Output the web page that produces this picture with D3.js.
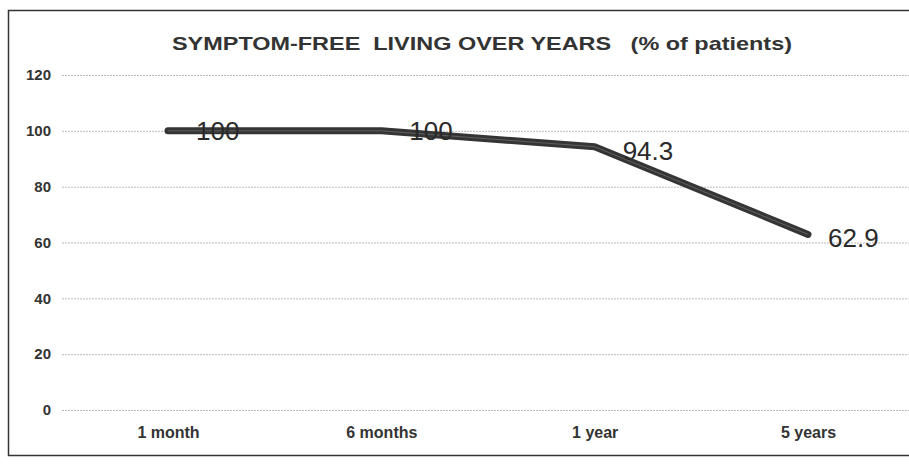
<!DOCTYPE html>
<html lang="en">
<head>
<meta charset="utf-8">
<title>Symptom-free living</title>
<script src="https://d3js.org/d3.v7.js"></script>
<style>
  body { margin: 0; background: #fff; overflow: hidden; }
  svg { display: block; }
  text { font-family: "Liberation Sans", Arial, sans-serif; }
  .narrow { font-family: "Liberation Sans Narrow", "Arial Narrow", "Liberation Sans", Arial, sans-serif; }
</style>
</head>
<body>
<script>
var w = 909;
var h = 466;

// data
var categories = ["1 month", "6 months", "1 year", "5 years"];
var values = [100, 100, 94.3, 62.9];
var valueLabels = ["100", "100", "94.3", "62.9"];
var yTicks = [0, 20, 40, 60, 80, 100, 120];
var title = "SYMPTOM-FREE  LIVING OVER YEARS   (% of patients)";

var xScale = d3.scalePoint()
  .domain(categories)
  .range([168, 808]);

var yScale = d3.scaleLinear()
  .domain([0, 120])
  .range([410, 75]);

var svg = d3.select("body")
  .append("svg")
  .attr("width", w)
  .attr("height", h);

// frame (right side runs off the page)
svg.append("path")
  .attr("d", "M1000,10.5 H8.5 V455.5 H1000")
  .attr("fill", "none")
  .attr("stroke", "#333")
  .attr("stroke-width", 1.5);

// title
svg.append("text")
  .attr("class", "narrow")
  .attr("x", 482)
  .attr("y", 50)
  .attr("text-anchor", "middle")
  .attr("font-size", 19)
  .attr("font-weight", "bold")
  .attr("fill", "#333")
  .attr("textLength", 620)
  .attr("lengthAdjust", "spacingAndGlyphs")
  .style("white-space", "pre")
  .text(title);

// y axis with gridlines
var yAxis = d3.axisLeft(yScale)
  .tickValues(yTicks)
  .tickSize(-(w - 62))
  .tickPadding(11)
  .tickFormat(d3.format("d"));

var gy = svg.append("g")
  .attr("transform", "translate(62,0)")
  .call(yAxis);
gy.select(".domain").remove();
gy.selectAll(".tick line")
  .attr("stroke", "#bbb")
  .attr("stroke-dasharray", "2,1");
gy.selectAll(".tick text")
  .attr("class", "narrow")
  .style("font-size", "15px")
  .style("font-weight", "bold")
  .attr("fill", "#333");

// x axis labels
var xAxis = d3.axisBottom(xScale)
  .tickSize(0)
  .tickPadding(0);
var gx = svg.append("g")
  .attr("transform", "translate(0,427)")
  .call(xAxis);
gx.select(".domain").remove();
gx.selectAll(".tick text")
  .attr("class", "narrow")
  .style("font-size", "16px")
  .style("font-weight", "bold")
  .attr("fill", "#333");

// line
var line = d3.line()
  .x((d, i) => xScale(categories[i]))
  .y(d => yScale(d));

svg.append("path")
  .datum(values)
  .attr("d", line)
  .attr("fill", "none")
  .attr("stroke", "#353535")
  .attr("stroke-width", 7)
  .attr("stroke-linecap", "round")
  .attr("stroke-linejoin", "round");

svg.append("path")
  .datum(values)
  .attr("d", line)
  .attr("fill", "none")
  .attr("stroke", "#8a8a8a")
  .attr("stroke-width", 1)
  .attr("opacity", 0.5);

// value labels
svg.selectAll("text.val")
  .data(values)
  .enter()
  .append("text")
  .attr("class", "val")
  .attr("x", (d, i) => xScale(categories[i]) + (i === 3 ? 20 : 28))
  .attr("y", (d, i) => yScale(d) + (i < 2 ? 9 : 13))
  .attr("font-size", 26)
  .attr("fill", "#2a2a2a")
  .text((d, i) => valueLabels[i]);
</script>
</body>
</html>
